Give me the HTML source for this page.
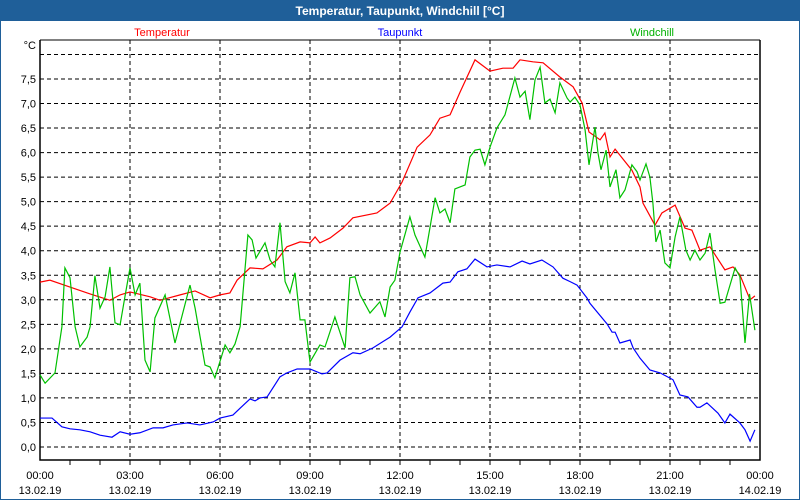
<!DOCTYPE html>
<html><head><meta charset="utf-8"><style>
html,body{margin:0;padding:0;background:#fff}
#wrap{position:relative;width:800px;height:500px;overflow:hidden;font-family:"Liberation Sans",sans-serif}
svg text{font-family:"Liberation Sans",sans-serif}
</style></head><body>
<div id="wrap">
<svg id="chart" width="800" height="500"></svg>
</div>
<script>
const tempT=[0,0.33,1,1.67,2.33,2.67,3,3.67,4,4.67,5.17,5.67,6,6.33,6.57,7,7.43,7.9,8.23,8.67,9,9.17,9.33,9.67,10.1,10.43,11.23,11.67,12.07,12.57,13,13.33,13.67,14,14.5,15,15.43,15.77,16,16.43,16.77,17.33,17.77,18.07,18.3,18.67,18.83,19,19.17,19.73,20,20.1,20.5,20.73,21.17,21.5,21.73,22,22.33,22.83,23.1,23.33,23.67,23.83];
const tempV=[3.36,3.40,3.26,3.12,2.99,3.10,3.16,3.06,2.99,3.10,3.18,3.04,3.10,3.14,3.40,3.65,3.63,3.81,4.08,4.18,4.16,4.28,4.16,4.26,4.46,4.67,4.77,4.97,5.40,6.11,6.36,6.70,6.77,7.23,7.89,7.66,7.72,7.72,7.89,7.85,7.83,7.54,7.34,7.01,6.42,6.26,6.40,5.91,6.07,5.64,5.30,4.97,4.52,4.77,4.93,4.46,4.42,4.01,4.08,3.61,3.67,3.51,3.00,3.08];
const dewT=[0,0.4,0.73,1,1.33,1.67,2,2.4,2.67,3,3.33,3.77,4.1,4.43,4.9,5.33,5.77,6.0,6.43,6.67,7,7.17,7.33,7.57,8,8.23,8.57,9,9.4,9.57,10,10.43,10.67,11.1,11.67,12.07,12.33,12.6,13,13.43,13.67,13.93,14.23,14.5,14.9,15.23,15.67,16.07,16.33,16.73,17.1,17.43,17.67,17.9,18.23,18.33,18.9,19.07,19.17,19.33,19.67,19.77,20,20.33,20.67,21.1,21.33,21.6,21.9,22,22.23,22.6,22.83,23,23.33,23.5,23.67,23.83];
const dewV=[0.59,0.59,0.41,0.37,0.35,0.31,0.24,0.20,0.31,0.26,0.29,0.39,0.39,0.45,0.49,0.45,0.51,0.59,0.65,0.79,0.98,0.94,1.00,1.02,1.43,1.51,1.59,1.59,1.49,1.51,1.77,1.92,1.90,2.02,2.24,2.45,2.75,3.04,3.14,3.34,3.36,3.57,3.63,3.83,3.67,3.71,3.67,3.79,3.73,3.81,3.67,3.44,3.37,3.30,3.04,2.93,2.51,2.34,2.34,2.12,2.18,2.02,1.81,1.57,1.51,1.37,1.06,1.02,0.81,0.81,0.90,0.69,0.49,0.67,0.49,0.35,0.12,0.35];
const windT=[0,0.17,0.5,0.73,0.83,1,1.17,1.33,1.57,1.67,1.83,2,2.17,2.33,2.5,2.67,2.83,3,3.17,3.33,3.5,3.67,3.83,4.17,4.5,5,5.17,5.5,5.67,5.83,6.17,6.33,6.5,6.67,6.93,7.07,7.2,7.5,7.67,7.83,8,8.17,8.33,8.5,8.67,8.83,9,9.33,9.5,9.83,10.17,10.33,10.5,10.67,11,11.33,11.5,11.67,11.83,12,12.33,12.5,12.83,13.17,13.33,13.5,13.67,13.83,14.17,14.33,14.5,14.67,14.83,15,15.23,15.5,15.83,16,16.17,16.33,16.5,16.67,16.83,17,17.17,17.33,17.57,17.67,17.83,18,18.17,18.3,18.5,18.6,18.7,18.87,19,19.2,19.33,19.5,19.73,19.9,20,20.2,20.33,20.43,20.53,20.67,20.83,21,21.17,21.33,21.53,21.67,21.83,22,22.17,22.33,22.5,22.67,22.83,23.17,23.33,23.5,23.65,23.83];
const windV=[1.47,1.30,1.51,2.45,3.65,3.45,2.45,2.04,2.24,2.45,3.49,2.83,3.06,3.67,2.53,2.49,3.06,3.65,3.10,3.34,1.77,1.53,2.63,3.10,2.12,3.30,2.83,1.67,1.63,1.41,2.08,1.92,2.10,2.45,4.32,4.22,3.85,4.16,3.81,3.67,4.57,3.37,3.14,3.55,2.59,2.59,1.73,2.08,2.04,2.65,2.02,3.45,3.47,3.10,2.73,2.96,2.65,3.26,3.40,3.97,4.69,4.32,3.87,5.08,4.77,4.85,4.57,5.26,5.34,5.91,6.05,6.07,5.75,6.11,6.50,6.77,7.52,7.13,7.25,6.67,7.48,7.74,7.01,7.09,6.81,7.42,7.11,7.03,7.13,6.97,6.46,5.75,6.52,5.99,5.65,6.05,5.30,5.65,5.08,5.24,5.75,5.61,5.44,5.77,5.50,4.97,4.18,4.42,3.75,3.65,4.28,4.69,4.01,3.81,4.01,3.81,3.95,4.36,3.61,2.93,2.95,3.65,3.47,2.12,3.12,2.38];
const yTicks=[0,0.5,1,1.5,2,2.5,3,3.5,4,4.5,5,5.5,6,6.5,7,7.5,8];
const xTicks=[0,3,6,9,12,15,18,21,24];
const xTimeLabels=["00:00","03:00","06:00","09:00","12:00","15:00","18:00","21:00","00:00"];
const xDateLabels=["13.02.19","13.02.19","13.02.19","13.02.19","13.02.19","13.02.19","13.02.19","13.02.19","14.02.19"];

const L=40,R=760,T=40,B=460;
const x=h=>L+h*30;
const y=v=>447-v*49.07;
const svg=document.getElementById('chart');
const NS='http://www.w3.org/2000/svg';
function mk(tag,attrs,parent){const e=document.createElementNS(NS,tag);for(const k in attrs)e.setAttribute(k,attrs[k]);(parent||svg).appendChild(e);return e;}

// frame and title bar
const frame=mk('rect',{x:0.5,y:0.5,width:799,height:499,fill:'#fff',stroke:'#1f5f99','stroke-width':1});


const bar=mk('rect',{x:0,y:0,width:800,height:21,fill:'#1f5f99'});


const title=mk('text',{x:400,y:15,'text-anchor':'middle','font-size':12,'font-weight':'bold',fill:'#fff'});
title.textContent='Temperatur, Taupunkt, Windchill [°C]';



// legend
const legends=[['Temperatur','#ff0000',162],['Taupunkt','#0000ff',400],['Windchill','#00b000',652]];
legends.forEach(l=>{const t=mk('text',{x:l[2],y:36,'text-anchor':'middle','font-size':11,fill:l[1]});t.textContent=l[0];

});

// y grid + labels
yTicks.forEach(v=>{
  const g=mk('line',{x1:L,x2:R,y1:y(v),y2:y(v),stroke:'#000','stroke-dasharray':'4,3','stroke-width':1});
  
  
  if(v<8){const t=mk('text',{x:36,y:y(v)+4,'text-anchor':'end','font-size':11,fill:'#000'});t.textContent=v.toFixed(1).replace('.',',');
  
  }
});
const unit=mk('text',{x:36,y:49,'text-anchor':'end','font-size':11,fill:'#000'});unit.textContent='°C';



// x grid, ticks, labels
for(let h=1;h<24;h++){const tk=mk('line',{x1:x(h),x2:x(h),y1:B,y2:B+5,stroke:'#000'});

}
xTicks.forEach((h,i)=>{
  if(h>0&&h<24){const g=mk('line',{x1:x(h),x2:x(h),y1:T,y2:B+5,stroke:'#000','stroke-dasharray':'4,3'});
  
  }
  const t1=mk('text',{x:x(h),y:479,'text-anchor':'middle','font-size':11,fill:'#000'});t1.textContent=xTimeLabels[i];
  
  
  const t2=mk('text',{x:x(h),y:494,'text-anchor':'middle','font-size':11,fill:'#000'});t2.textContent=xDateLabels[i];
  
  
});

// axes
const ax=mk('polyline',{points:`${L},${T} ${L},${B} ${R},${B} ${R},${T}`,fill:'none',stroke:'#000','stroke-width':1.5});


const topAx=mk('line',{x1:L,x2:R,y1:T,y2:T,stroke:'#000'});



function series(ts,vs,color,name){
  const p=mk('polyline',{points:ts.map((t,i)=>x(t)+','+y(vs[i])).join(' '),fill:'none',stroke:color,'stroke-width':1.2});
  
  
}
series(dewT,dewV,'#0000ff','dewpoint-line');
series(tempT,tempV,'#ff0000','temperature-line');
series(windT,windV,'#00c000','windchill-line');
</script>
</body></html>
